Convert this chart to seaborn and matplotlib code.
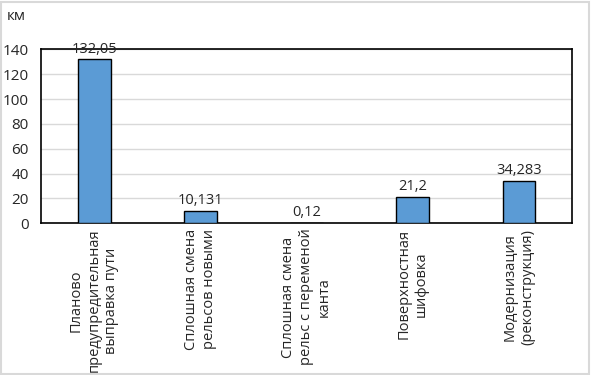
import pandas as pd
import seaborn as sns
import matplotlib.pyplot as plt
from matplotlib.patches import Rectangle

categories = [
    "Планово\nпредупредительная\nвыправка пути",
    "Сплошная смена\nрельсов новыми",
    "Сплошная смена\nрельс с переменой\nканта",
    "Поверхностная\nшифовка",
    "Модернизация\n(реконструкция)",
]
values = [132.05, 10.131, 0.12, 21.2, 34.283]
value_labels = ["132,05", "10,131", "0,12", "21,2", "34,283"]
yticks = [0, 20, 40, 60, 80, 100, 120, 140]

sns.set_style("white")
plt.rcParams['font.family'] = ['Open Sans', 'DejaVu Sans']

df = pd.DataFrame({"cat": categories, "val": values})

fig = plt.figure(figsize=(5.91, 3.75), dpi=100)
ax = fig.add_axes([0.0694, 0.405, 0.8986, 0.463])

sns.barplot(data=df, x="cat", y="val", color="#5B9BD5", width=0.31,
            edgecolor="black", linewidth=1.0, saturation=1, ax=ax, zorder=3)

ax.set_ylim(0, 140)
ax.set_yticks(yticks)
ax.set_yticklabels([str(t) for t in yticks], fontsize=11)
ax.yaxis.grid(True, color="#d9d9d9", linewidth=1, zorder=0)
ax.set_xlabel("")
ax.set_ylabel("")
for s in ax.spines.values():
    s.set_color("black")
    s.set_linewidth(1.2)
ax.tick_params(axis="y", length=0, pad=9)
ax.tick_params(axis="x", length=0, pad=4)
ax.set_xticks(range(len(categories)))
ax.set_xticklabels(categories, rotation=90, fontsize=10.5, va="top", ha="center",
                   multialignment="center", linespacing=1.25)

for i, (v, lab) in enumerate(zip(values, value_labels)):
    ax.text(i, v + 2, lab, ha="center", va="bottom", fontsize=10.5)

fig.text(0.012, 0.955, "км", fontsize=11, va="center", ha="left")

fig.patches.append(Rectangle((0.002, 0.003), 0.994, 0.992, transform=fig.transFigure,
                             fill=False, edgecolor="#d9d9d9", linewidth=1.5))

fig.savefig("out.png", dpi=100)
